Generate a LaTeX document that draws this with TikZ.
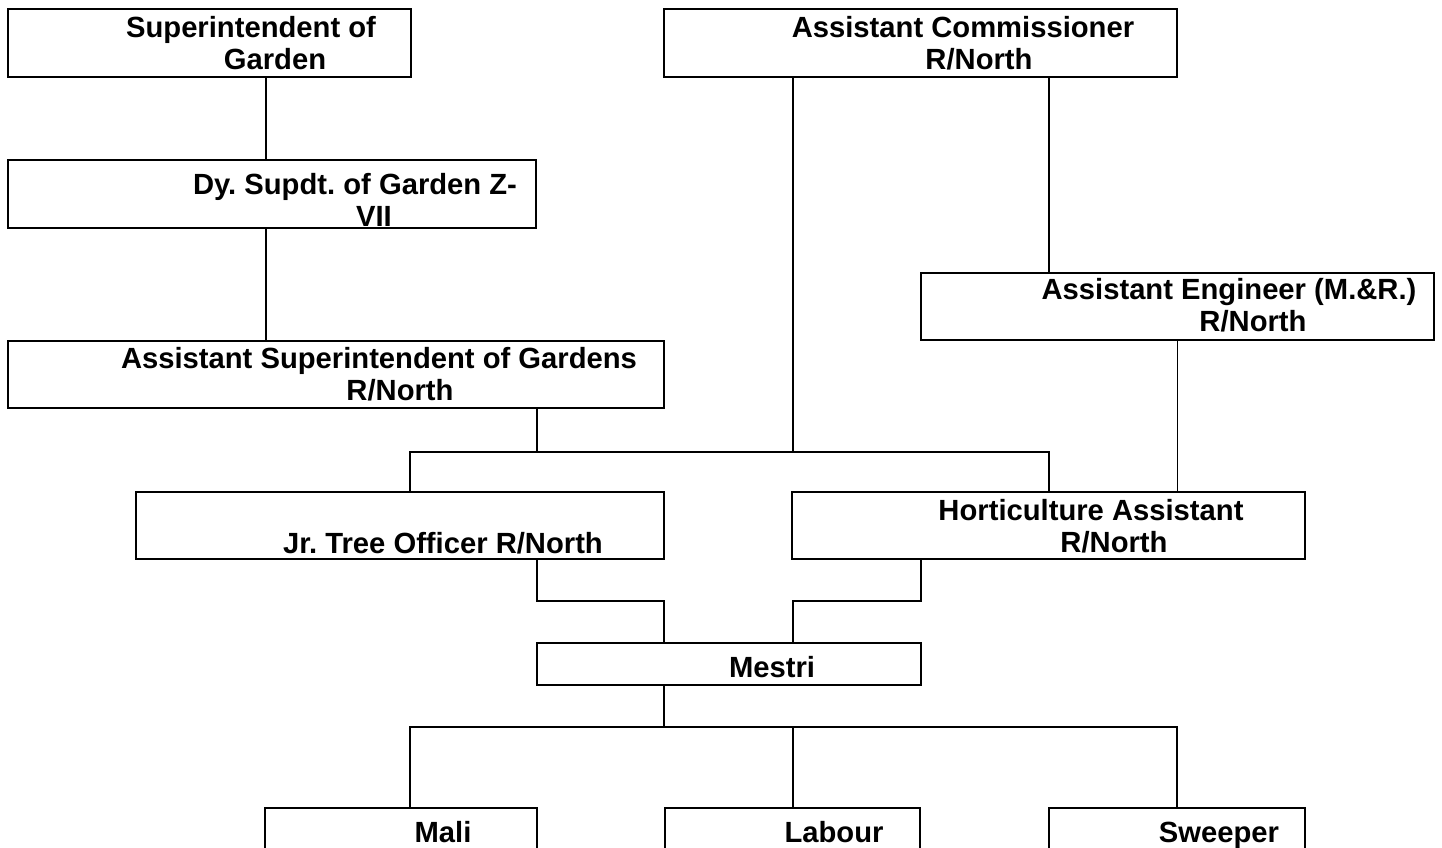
\documentclass[tikz,border=0pt]{standalone}
\usepackage{fontspec}
\setmainfont{Liberation Sans}
\frenchspacing
\usepackage{tikz}

\tikzset{
  post/.style={draw, rectangle, line width=1.5pt, inner sep=0pt},
  txt/.style={inner sep=0pt, align=center, font=\fontsize{21.9}{24}\selectfont\bfseries},
  link/.style={line width=1pt}
}

\begin{document}
\begin{tikzpicture}[x=0.75pt,y=0.75pt,yscale=-1,xscale=1]
\clip (0,0) rectangle (1442,848);

%Shape: Rectangle
\node[post, minimum width=302.25pt, minimum height=51pt] (sog) at (209.5,43) {};
\node[post, minimum width=384.75pt, minimum height=51pt] (ac) at (920.5,43) {};
\node[post, minimum width=396pt, minimum height=51pt] (dsg) at (272,194) {};
\node[post, minimum width=384.75pt, minimum height=50.25pt] (ae) at (1177.5,306.5) {};
\node[post, minimum width=492pt, minimum height=50.25pt] (asg) at (336,374.5) {};
\node[post, minimum width=396pt, minimum height=50.25pt] (jto) at (400,525.5) {};
\node[post, minimum width=384.75pt, minimum height=50.25pt] (ha) at (1048.5,525.5) {};
\node[post, minimum width=288pt, minimum height=31.5pt] (mestri) at (729,664) {};
\node[post, minimum width=204pt, minimum height=50.25pt] (mali) at (401,841.5) {};
\node[post, minimum width=191.25pt, minimum height=50.25pt] (labour) at (792.5,841.5) {};
\node[post, minimum width=192pt, minimum height=50.25pt] (sweeper) at (1177,841.5) {};

% Text Node
\node[txt] (sogt) at (251,43) {Superintendent of\\\hspace*{36pt}Garden};
\node[txt] (act) at (963,43) {Assistant Commissioner\\\hspace*{24pt}R/North};
\node[txt] (dsgt) at (355,200) {Dy. Supdt. of Garden Z-\\\hspace*{28.5pt}VII};
\node[txt] (aet) at (1229,305) {Assistant Engineer (M.\&R.)\\\hspace*{36pt}R/North};
\node[txt] (asgt) at (379,374.5) {Assistant Superintendent of Gardens\\\hspace*{31.5pt}R/North};
\node[txt] (jtot) at (443,543) {Jr. Tree Officer R/North};
\node[txt] (hat) at (1091,526) {Horticulture Assistant\\\hspace*{34.5pt}R/North};
\node[txt] (mestrit) at (772,667) {Mestri};
\node[txt, anchor=base] (malit) at (443,842) {Mali};
\node[txt, anchor=base] (labourt) at (834,842) {Labour};
\node[txt, anchor=base] (sweepert) at (1219,842) {Sweeper};

% Connector columns and elbows
\coordinate (k1) at (266,0);
\coordinate (k2) at (793,452);
\coordinate (k3) at (1049,452);
\coordinate (k4) at (537,452);
\coordinate (k5) at (410,452);
\coordinate (m1) at (664,601);
\coordinate (m2) at (793,601);
\coordinate (j1) at (537,0);
\coordinate (j2) at (921,0);
\coordinate (b0) at (664,727);
\coordinate (b1) at (410,727);
\coordinate (b3) at (1177,727);

%Straight Lines
\draw[link] (sog.south -| k1) -- (dsg.north -| k1);
\draw[link] (dsg.south -| k1) -- (asg.north -| k1);
\draw[link] (ac.south -| k3) -- (ae.north -| k3);
\draw[link] (ac.south -| k2) -- (k2);
\draw[link] (asg.south -| k4) -- (k4);
\draw[link] (jto.north -| k5) -- (k5) -- (k3) -- (ha.north -| k3);
\draw[link] (ae.south) -- (ha.north -| ae.south);
\draw[link] (jto.south -| j1) |- (m1) -- (mestri.north -| m1);
\draw[link] (ha.south -| j2) |- (m2) -- (mestri.north -| m2);
\draw[link] (mestri.south -| b0) -- (b0);
\draw[link] (mali.north -| b1) -- (b1) -- (b3) -- (sweeper.north -| b3);
\draw[link] (labour.north -| m2) -- (m2 |- b0);

\end{tikzpicture}
\end{document}
